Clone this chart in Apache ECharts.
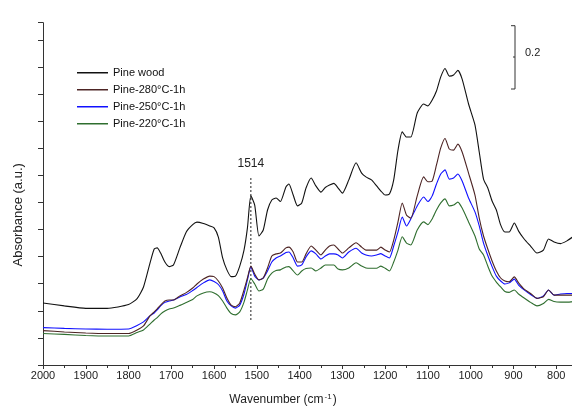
<!DOCTYPE html>
<html>
<head>
<meta charset="utf-8">
<script src="https://cdn.jsdelivr.net/npm/echarts@6/dist/echarts.min.js"></script>
<style>html,body{margin:0;padding:0;background:#fff;overflow:hidden;}#c{width:599px;height:417px;}</style>
</head>
<body>
<div id="c"></div>
<script>
const wavenumbers = [2000,1950,1900,1850,1800,1780,1765,1750,1740,1733,1725,1715,1705,1695,1680,1665,1650,1640,1625,1610,1600,1590,1580,1570,1560,1550,1540,1530,1522,1514,1505,1495,1485,1475,1465,1455,1445,1432,1425,1415,1405,1395,1385,1373,1362,1350,1340,1330,1320,1310,1300,1285,1268,1255,1245,1232,1220,1210,1200,1190,1180,1170,1160,1150,1140,1125,1110,1100,1090,1080,1070,1060,1050,1040,1030,1020,1005,990,980,970,960,950,940,930,920,910,898,888,875,860,845,830,818,805,790,775,760];

const pineWood = [0.229,0.218,0.209,0.209,0.223,0.245,0.288,0.375,0.428,0.432,
0.413,0.380,0.363,0.369,0.432,0.491,0.518,0.527,0.522,0.513,
0.506,0.472,0.395,0.351,0.326,0.328,0.365,0.424,0.506,0.624,
0.590,0.476,0.498,0.572,0.609,0.616,0.603,0.657,0.668,0.627,
0.587,0.598,0.653,0.690,0.661,0.638,0.655,0.664,0.670,0.653,
0.634,0.683,0.746,0.708,0.694,0.683,0.661,0.642,0.627,0.631,
0.683,0.793,0.860,0.841,0.841,0.930,0.963,0.956,0.978,1.011,
1.063,1.094,1.066,1.070,1.087,1.055,0.963,0.886,0.786,0.686,
0.653,0.605,0.572,0.517,0.491,0.491,0.524,0.494,0.465,0.439,
0.413,0.424,0.465,0.454,0.448,0.458,0.474];

const pine280 = [0.127,0.122,0.118,0.116,0.116,0.129,0.144,0.181,0.196,0.207,
0.221,0.236,0.240,0.240,0.255,0.267,0.284,0.299,0.317,0.328,
0.326,0.310,0.284,0.247,0.221,0.215,0.229,0.277,0.321,0.365,
0.336,0.314,0.321,0.358,0.402,0.410,0.413,0.432,0.435,0.417,
0.380,0.380,0.410,0.439,0.424,0.406,0.424,0.439,0.443,0.428,
0.413,0.432,0.451,0.435,0.424,0.424,0.424,0.435,0.424,0.417,
0.461,0.528,0.598,0.553,0.542,0.624,0.694,0.676,0.679,0.738,
0.801,0.836,0.797,0.793,0.815,0.786,0.708,0.627,0.542,0.476,
0.428,0.384,0.347,0.321,0.310,0.307,0.325,0.303,0.280,0.264,
0.246,0.252,0.277,0.258,0.258,0.258,0.258];

const pine250 = [0.138,0.135,0.133,0.132,0.133,0.146,0.159,0.181,0.192,0.203,
0.218,0.231,0.236,0.240,0.251,0.260,0.275,0.286,0.303,0.314,
0.308,0.297,0.273,0.236,0.218,0.210,0.221,0.262,0.314,0.362,
0.328,0.314,0.321,0.347,0.380,0.395,0.402,0.415,0.417,0.395,
0.365,0.369,0.399,0.421,0.410,0.391,0.402,0.410,0.410,0.406,
0.395,0.417,0.431,0.413,0.406,0.402,0.406,0.411,0.402,0.395,
0.439,0.491,0.546,0.513,0.539,0.587,0.620,0.603,0.624,0.668,
0.705,0.720,0.686,0.690,0.705,0.679,0.616,0.565,0.513,0.450,
0.404,0.363,0.328,0.310,0.299,0.303,0.317,0.295,0.277,0.260,
0.246,0.255,0.277,0.258,0.262,0.264,0.264];

const pine220 = [0.116,0.113,0.109,0.107,0.107,0.120,0.129,0.151,0.166,0.175,
0.188,0.199,0.207,0.210,0.220,0.231,0.242,0.255,0.266,0.270,
0.266,0.256,0.236,0.210,0.190,0.185,0.196,0.232,0.277,0.319,
0.299,0.273,0.280,0.317,0.339,0.349,0.351,0.362,0.363,0.347,
0.332,0.347,0.356,0.358,0.347,0.358,0.369,0.369,0.369,0.354,
0.351,0.358,0.377,0.365,0.358,0.357,0.357,0.365,0.357,0.347,
0.380,0.424,0.473,0.450,0.443,0.498,0.528,0.518,0.539,0.572,
0.598,0.613,0.587,0.590,0.601,0.579,0.528,0.476,0.428,0.406,
0.365,0.328,0.306,0.288,0.271,0.268,0.277,0.262,0.247,0.231,
0.218,0.227,0.242,0.234,0.232,0.232,0.234];

const seriesNames = ['Pine wood','Pine-280°C-1h','Pine-250°C-1h','Pine-220°C-1h'];
const seriesColors = ['#111111','#4d2424','#1010ff','#2f6e2f'];
const seriesValues = [pineWood, pine280, pine250, pine220];

const markerWavenumber = 1514;
const markerRange = [0.690, 0.159];
const markerLabel = '1514';

const pair = (vals) => wavenumbers.map((w, i) => [w, vals[i]]);
const font = 'Liberation Sans, Arial, sans-serif';

const chart = echarts.init(document.getElementById('c'), null, {renderer: 'canvas'});

const series = seriesValues.map((vals, i) => ({
  name: seriesNames[i],
  type: 'line',
  data: pair(vals),
  showSymbol: false,
  smooth: 0.2,
  lineStyle: {color: seriesColors[i], width: 1.1},
  itemStyle: {color: seriesColors[i]},
  animation: false,
  z: 10 - i
}));

series.push({
  name: 'marker',
  type: 'line',
  showSymbol: true,
  symbol: 'circle',
  symbolSize: 1,
  silent: true,
  animation: false,
  itemStyle: {color: 'rgba(0,0,0,0)'},
  lineStyle: {color: '#222', width: 1, type: [2, 2]},
  data: [
    {value: [markerWavenumber, markerRange[0]],
     label: {show: true, position: 'top', distance: 8, formatter: markerLabel,
             color: '#222', fontSize: 12, fontFamily: font}},
    [markerWavenumber, markerRange[1]]
  ]
});

chart.setOption({
  backgroundColor: '#fff',
  animation: false,
  grid: {left: 43, right: 0, top: 22.7, bottom: 52, outerBoundsMode: 'none', containLabel: false},
  legend: {
    data: seriesNames,
    orient: 'vertical',
    left: 77, top: 66,
    padding: 0,
    icon: 'rect',
    itemWidth: 31, itemHeight: 1.5,
    itemGap: 3.5,
    textStyle: {fontFamily: font, fontSize: 11, color: '#111', lineHeight: 13.5}
  },
  xAxis: {
    type: 'value', inverse: true, min: 700, max: 2000, interval: 100,
    name: '{a|Wavenumber (cm}{s|-1}{a|)}',
    nameLocation: 'middle', nameGap: 28,
    nameTextStyle: {
      padding: [0, 76, 0, 0],
      rich: {
        a: {fontFamily: font, fontSize: 12, color: '#222'},
        s: {fontFamily: font, fontSize: 8, color: '#222', verticalAlign: 'top', padding: [0,1,6,1]}
      }
    },
    axisLine: {lineStyle: {color: '#333', width: 1}},
    axisTick: {show: true, length: 4, lineStyle: {color: '#333'}},
    minorTick: {show: true, splitNumber: 2, length: 3, lineStyle: {color: '#333'}},
    axisLabel: {fontFamily: font, fontSize: 11, color: '#222', margin: 5, formatter: v => String(v)},
    splitLine: {show: false}
  },
  yAxis: {
    type: 'value', min: 0, max: 1.263, interval: 0.1,
    name: 'Absorbance (a.u.)',
    nameLocation: 'middle', nameGap: 18,
    nameTextStyle: {fontFamily: font, fontSize: 13, color: '#222', padding: [0, 42, 0, 0]},
    axisLine: {show: true, lineStyle: {color: '#333', width: 1}},
    axisTick: {show: true, length: 5, lineStyle: {color: '#333'}},
    axisLabel: {show: false},
    splitLine: {show: false}
  },
  graphic: [
    {type: 'polyline', shape: {points: [[511, 25.7], [515, 25.7], [515, 89], [511, 89]]},
     style: {stroke: '#333', lineWidth: 1, fill: null}},
    {type: 'line', shape: {x1: 513, y1: 57, x2: 515, y2: 57}, style: {stroke: '#333', lineWidth: 1}},
    {type: 'text', x: 525, y: 53, style: {text: '0.2', fontFamily: font, fontSize: 11, fill: '#222', verticalAlign: 'middle'}}
  ],
  series: series
});
</script>
</body>
</html>
